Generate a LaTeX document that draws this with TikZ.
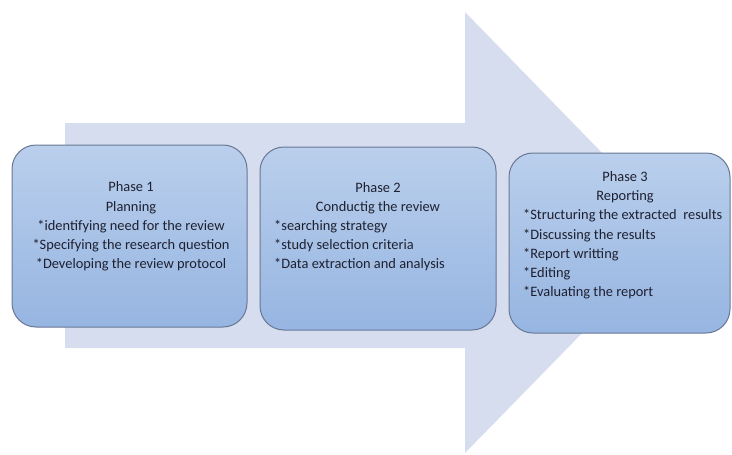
\documentclass[tikz,border=0pt]{standalone}
\usepackage{fontspec}
\setmainfont{Carlito}
\usepackage{xcolor}
\usepackage{tikz}
\usetikzlibrary{positioning}
\definecolor{arrowfill}{RGB}{214,221,238}
\definecolor{phasetop}{RGB}{186,207,236}
\definecolor{phasebot}{RGB}{150,181,225}
\definecolor{phaseline}{RGB}{104,120,150}
\definecolor{phasetext}{RGB}{30,32,48}

\begin{document}
\begin{tikzpicture}[
  x=1pt, y=-1pt,
  phase/.style={draw=phaseline, line width=1pt, rounded corners=24pt,
    top color=phasetop, bottom color=phasebot, inner sep=0pt},
  txt/.style={inner sep=0pt, text=phasetext, font=\fontsize{14.4}{19.2}\selectfont},
  title/.style={txt, align=center},
  items/.style={txt, align=left, anchor=west}
]
\useasboundingbox (0,0) rectangle (732,455);

% big background arrow
\fill[arrowfill] (65,123) -- (465,123) -- (465,12) -- (680,233)
  -- (465,453) -- (465,348) -- (65,348) -- cycle;

% the three phases
\node[phase, minimum width=235pt, minimum height=182pt] (ph1) at (129.5,236) {};
\node[phase, minimum width=236pt, minimum height=183pt] (ph2) at (378,238.5) {};
\node[phase, minimum width=221pt, minimum height=180pt] (ph3) at (619.5,243) {};

\node[title] (t1) at (131,226.5) {Phase 1\\Planning\\*identifying need for the review\\
  *Specifying the research question\\*Developing the review protocol};

\node[title] (t2) at (378,198.5) {Phase 2\\Conductig the review};
\node[items] (l2) at (274,245.5) {*searching strategy\\*study selection criteria\\
  *Data extraction and analysis};

\node[title] (t3) at (625,187.5) {Phase 3\\Reporting};
\node[items] (l3) at (523,254.5) {*Structuring the extracted\ \ results\\
  *Discussing the results\\*Report writting\\*Editing\\*Evaluating the report};
\end{tikzpicture}
\end{document}
